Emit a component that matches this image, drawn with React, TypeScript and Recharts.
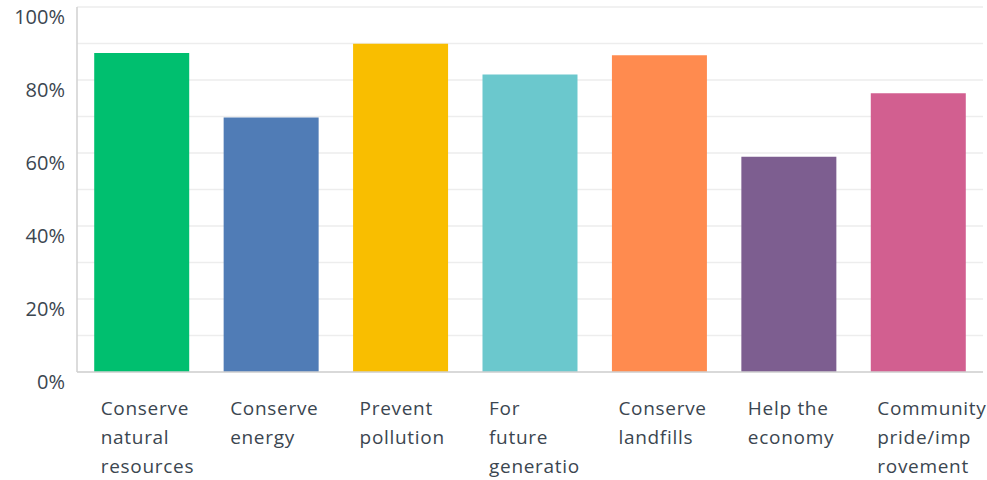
import React from 'react';
import { BarChart, Bar, XAxis, YAxis, CartesianGrid, Cell } from 'recharts';

// categories: line breaks mark where the axis label wraps
const categories = [
  'Conserve\nnatural\nresources',
  'Conserve\nenergy',
  'Prevent\npollution',
  'For\nfuture\ngeneratio',
  'Conserve\nlandfills',
  'Help the\neconomy',
  'Community\npride/imp\nrovement',
];
const values = [87.4, 69.7, 89.9, 81.5, 86.8, 59.0, 76.4];
const colors = ['#00BF6F', '#507CB6', '#F9BE00', '#6BC8CD', '#FF8B4F', '#7D5E90', '#D25F90'];
const yTicks = [0, 10, 20, 30, 40, 50, 60, 70, 80, 90, 100];

const data = categories.map((name, i) => ({ name, value: values[i] }));

const textColor = '#3B4650';

function XTick(props: any) {
  const { x, y, payload } = props;
  const lines = String(payload.value).split('\n');
  return (
    <text
      x={x - 41}
      y={y}
      fill={textColor}
      fontSize={19}
      fontFamily="'Open Sans', sans-serif"
      letterSpacing={0.7}
      textAnchor="start"
    >
      {lines.map((l, i) => (
        <tspan key={i} x={x - 41} dy={i === 0 ? 35 : 29}>
          {l}
        </tspan>
      ))}
    </text>
  );
}

function YTick(props: any) {
  const { x, y, payload } = props;
  if (payload.value % 20 !== 0) return <g />;
  return (
    <text
      x={x - 4}
      y={y + 12}
      fill={textColor}
      fontSize={20}
      fontFamily="'Open Sans', sans-serif"
      textAnchor="end"
      dominantBaseline="middle"
    >
      {payload.value}%
    </text>
  );
}

export default function App() {
  return (
    <div style={{ position: 'absolute', left: 0, top: 0, width: 987, height: 480, background: '#fff' }}>
      <BarChart
        width={987}
        height={480}
        data={data}
        margin={{ top: 7, right: 4, left: 0, bottom: 0 }}
        barCategoryGap="13.3%"
      >
        <CartesianGrid vertical={false} stroke="#EDEDED" strokeWidth={1.5} />
        <XAxis
          dataKey="name"
          height={108}
          interval={0}
          tick={<XTick />}
          tickLine={false}
          axisLine={{ stroke: '#D0D0D0', strokeWidth: 1.5 }}
        />
        <YAxis
          width={77}
          domain={[0, 100]}
          ticks={yTicks}
          interval={0}
          tick={<YTick />}
          tickLine={false}
          axisLine={{ stroke: '#D0D0D0', strokeWidth: 1.5 }}
        />
        <Bar dataKey="value" isAnimationActive={false}>
          {data.map((d, i) => (
            <Cell key={d.name} fill={colors[i]} />
          ))}
        </Bar>
      </BarChart>
    </div>
  );
}
